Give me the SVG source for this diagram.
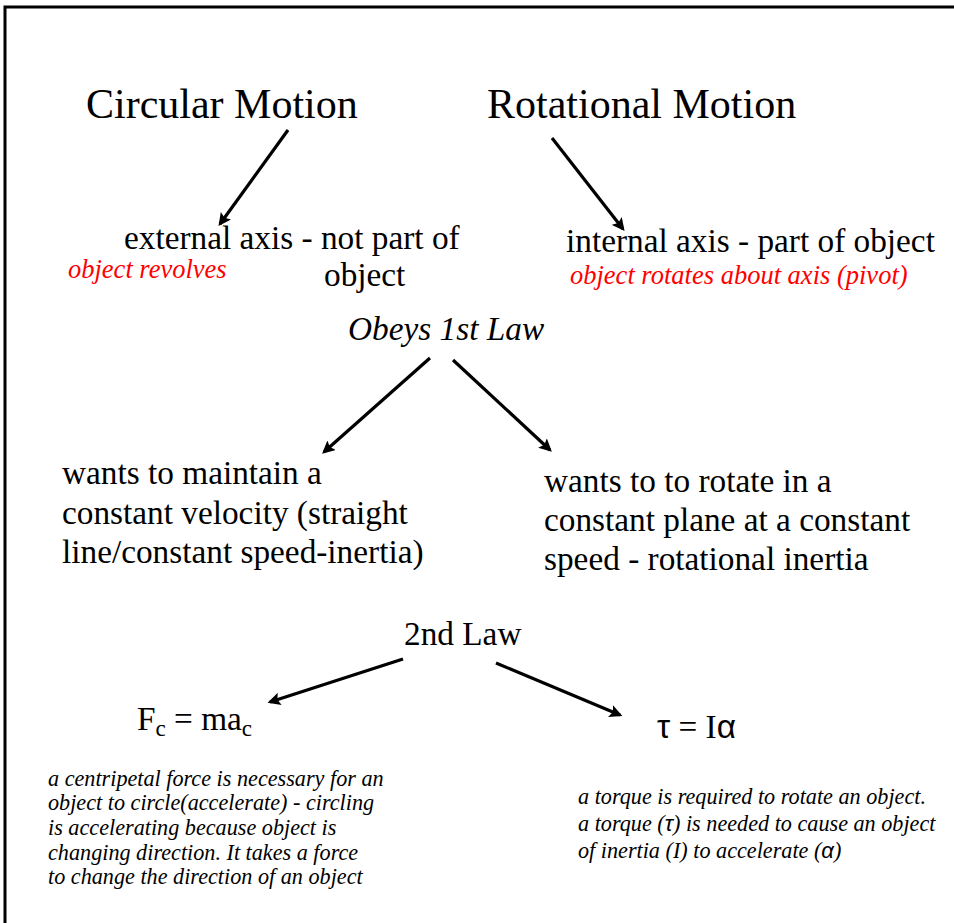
<svg xmlns="http://www.w3.org/2000/svg" width="954" height="923" viewBox="0 0 954 923">
<style>
text{font-family:"Liberation Serif","Times New Roman",serif;fill:#000}
.t{font-size:42px}
.m{font-size:33.3px}
.r{font-size:26.5px;font-style:italic;fill:#ff0000}
.i{font-style:italic}
.s{font-size:22.2px;font-style:italic}
.g{font-family:"Liberation Sans",Arial,sans-serif}
.c line{stroke:#000;stroke-width:3.2;marker-end:url(#a)}
</style>
<defs>
<marker id="a" viewBox="0 0 10 10" refX="8" refY="5" markerWidth="4" markerHeight="4" orient="auto" markerUnits="strokeWidth">
<path d="M0,0 L10,5 L0,10 L2,5 Z" fill="#000"/>
</marker>
</defs>
<rect width="954" height="923" fill="#fff"/>
<path d="M5,923 V7 H954" fill="none" stroke="#000" stroke-width="3"/>
<g id="circular"><text class="t" x="86" y="118">Circular Motion</text></g>
<g id="rotational"><text class="t" x="487" y="118">Rotational Motion</text></g>
<g id="external"><text class="m" x="124" y="249">external axis - not part of</text><text class="m" x="324" y="286">object</text><text class="r" x="68" y="278">object revolves</text></g>
<g id="internal"><text class="m" x="566" y="252">internal axis - part of object</text><text class="r" x="570" y="284">object rotates about axis (pivot)</text></g>
<g id="first"><text class="m i" x="348" y="340">Obeys 1st Law</text></g>
<g id="left1"><text class="m" x="62" y="484">wants to maintain a</text><text class="m" x="62" y="524">constant velocity (straight</text><text class="m" x="62" y="563">line/constant speed-inertia)</text></g>
<g id="right1"><text class="m" x="544" y="492">wants to to rotate in a</text><text class="m" x="544" y="531">constant plane at a constant</text><text class="m" x="544" y="570">speed - rotational inertia</text></g>
<g id="second"><text class="m" x="404" y="645">2nd Law</text></g>
<g id="fc"><text class="m" x="137" y="730">F<tspan font-size="23" dy="6">c</tspan><tspan dy="-6"> = ma</tspan><tspan font-size="23" dy="6">c</tspan></text></g>
<g id="tau"><text class="m" x="657" y="738"><tspan class="g">τ</tspan> = I<tspan class="g">α</tspan></text></g>
<g id="leftnote"><text class="s" x="48" y="786">a centripetal force is necessary for an</text><text class="s" x="48" y="810">object to circle(accelerate) - circling</text><text class="s" x="48" y="835">is accelerating because object is</text><text class="s" x="48" y="860">changing direction.  It takes a force</text><text class="s" x="48" y="884">to change the direction of an object</text></g>
<g id="rightnote"><text class="s" x="578" y="804">a torque is required to rotate an object.</text><text class="s" x="578" y="831">a torque (<tspan class="g">τ</tspan>) is needed to cause an object</text><text class="s" x="578" y="858">of inertia (I) to accelerate (<tspan class="g">α</tspan>)</text></g>
<g id="connectors" class="c">
<line x1="288" y1="130" x2="220" y2="224"/>
<line x1="552" y1="138" x2="623" y2="229"/>
<line x1="430" y1="358" x2="324" y2="452"/>
<line x1="453" y1="360" x2="550" y2="450"/>
<line x1="403" y1="659" x2="270" y2="702"/>
<line x1="496" y1="663" x2="620" y2="715"/>
</g>
</svg>
